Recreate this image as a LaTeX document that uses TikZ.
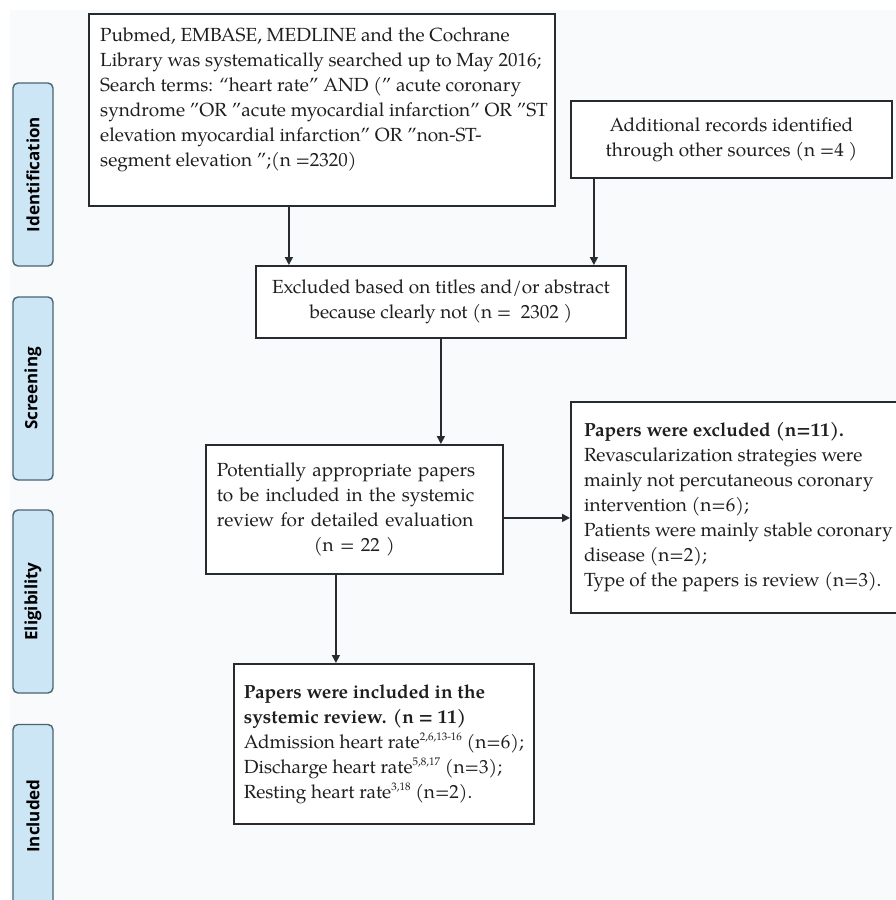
\documentclass[tikz,border=0pt]{standalone}
\usepackage{fontspec}
\setmainfont{TeX Gyre Pagella}
\newfontfamily\tabfont{Open Sans}
\usetikzlibrary{arrows.meta}
\definecolor{bgc}{HTML}{F9FAFC}
\definecolor{boxc}{HTML}{262B30}
\definecolor{tabf}{HTML}{CDE6F6}
\definecolor{tabd}{HTML}{4A6470}
\definecolor{txtc}{HTML}{1E1E1E}
\newcommand\mysup[1]{\raisebox{0.8ex}{\fontsize{11}{11}\selectfont #1}}
\begin{document}
\begin{tikzpicture}[x=1pt,y=-1pt,
  tab/.style={draw=tabd, fill=tabf, rounded corners=5pt, line width=1.4pt,
    rotate=90, minimum width=183pt, minimum height=40pt, inner sep=0pt,
    font=\tabfont\bfseries\fontsize{17}{19}\selectfont, text=black},
  box/.style={draw=boxc, line width=1.8pt, fill=white, inner sep=0pt,
    anchor=north west, text=txtc, font=\fontsize{19}{25}\selectfont},
  txt/.style={inner sep=0pt, text=txtc, font=\fontsize{19}{25}\selectfont},
  arr/.style={draw=boxc, line width=1.6pt, -{Triangle[length=8pt,width=8pt]}}]
\useasboundingbox (0,0) rectangle (896,900);
\clip (0,0) rectangle (896,900);
\fill[bgc] (10,10) rectangle (896,900);
% phase tabs
\node[tab] (tid) at (33,174.5) {Identification};
\node[tab] (tsc) at (33,388.5) {Screening};
\node[tab] (tel) at (33,601.5) {Eligibility};
\node[tab] (tin) at (33,816) {Included};
% boxes
\node[box, minimum width=466pt, minimum height=192pt] (search) at (88,13) {};
\node[txt, anchor=north west, align=left] (searcht) at (100,28) {Pubmed, EMBASE, MEDLINE and the Cochrane\\
Library was systematically searched up to May 2016;\\
Search terms: “heart rate” AND (” acute coronary\\
syndrome ”OR ”acute myocardial infarction” OR ”ST\\
elevation myocardial infarction” OR ”non-ST-\\
segment elevation ”;(n =2320)};
\node[box, minimum width=321pt, minimum height=77pt, align=center] (add) at (570,100) {Additional records identified\\through other sources (n =4 )};
\node[box, minimum width=370pt, minimum height=72pt, align=center] (excl) at (255,265) {Excluded based on titles and/or abstract\\because clearly not (n =~~2302 )};
\node[box, minimum width=297pt, minimum height=129pt, text width=275pt, inner xsep=11pt, align=left] (pot) at (205,444) {Potentially appropriate papers\\to be included in the systemic\\review for detailed evaluation\\\hspace*{\fill}(n = 22 )\hspace*{\fill}};
\node[box, minimum width=335pt, minimum height=211pt, align=left] (exclp) at (570,401) {\textbf{Papers were excluded (n=11).}\\
Revascularization strategies were\\
mainly not percutaneous coronary\\
intervention (n=6);\\
Patients were mainly stable coronary\\
disease (n=2);\\
Type of the papers is review (n=3).};
\node[box, minimum width=300pt, minimum height=160pt, align=left] (incl) at (233,663) {\textbf{Papers were included in the}\\
\textbf{systemic review. (n = 11)}\\
Admission heart rate\mysup{2,6,13-16} (n=6);\\
Discharge heart rate\mysup{5,8,17} (n=3);\\
Resting heart rate\mysup{3,18} (n=2).};
% connectors
\coordinate (a1) at ([xshift=-33pt]search.south);
\draw[arr] (a1) -- (a1 |- excl.north);
\coordinate (a2) at ([xshift=-137.5pt]add.south);
\draw[arr] (a2) -- (a2 |- excl.north);
\draw[arr] (excl.south) -- (excl.south |- pot.north);
\coordinate (a3) at ([yshift=-8.5pt]pot.east);
\draw[arr] (a3) -- (a3 -| exclp.west);
\coordinate (a4) at ([xshift=-18.5pt]pot.south);
\draw[arr] (a4) -- (a4 |- incl.north);
\end{tikzpicture}
\end{document}
